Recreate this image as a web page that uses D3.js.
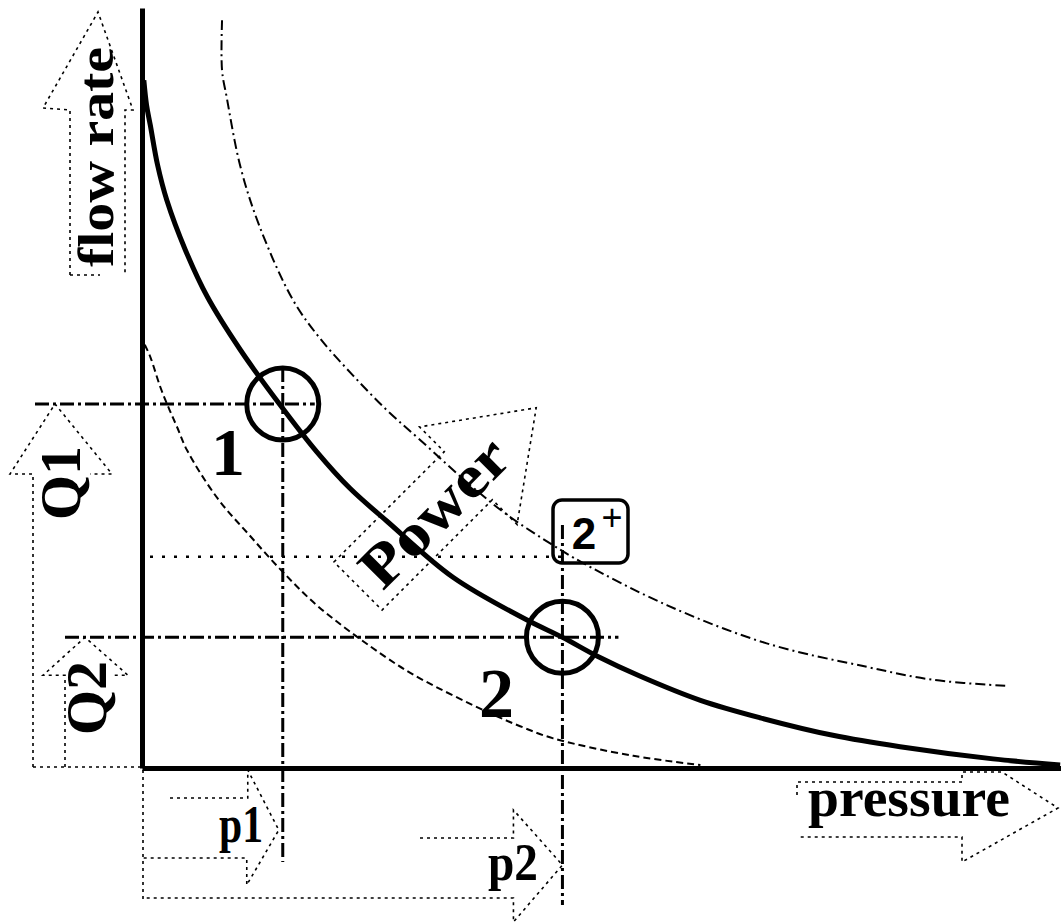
<!DOCTYPE html>
<html>
<head>
<meta charset="utf-8">
<script src="https://cdn.jsdelivr.net/npm/d3@7"></script>
<style>
  body { margin: 0; background: #fff; }
  svg text { font-family: "Liberation Serif", "DejaVu Serif", serif; font-weight: bold; fill: #000; }
</style>
</head>
<body>
<svg id="chart" width="1061" height="924"></svg>
<script>
// ---- data (pressure, flow rate), arbitrary units 0..100 ----
const mainCurve = [
  [0.2, 90.5], [0.5, 87.2], [0.9, 84.6], [1.7, 79.3], [2.7, 74.7], [4.7, 68.2],
  [7.1, 62.0], [10.7, 55.0], [15.0, 47.8], [19.0, 41.6], [22.6, 36.8], [26.6, 32.5],
  [33.8, 25.1], [41.8, 19.5], [45.7, 17.2], [49.5, 14.7], [54.1, 12.1], [60.7, 8.9],
  [67.2, 6.6], [75.1, 4.3], [82.4, 2.8], [92.5, 1.2], [99.8, 0.4]
];
const upperCurve = [
  [8.7, 98.4], [8.7, 91.8], [9.2, 88.3], [10.7, 79.1], [12.8, 71.2], [16.4, 61.6],
  [19.3, 56.6], [22.9, 51.7], [26.6, 47.1], [30.2, 43.2], [35.7, 37.2], [39.7, 33.3],
  [44.7, 29.3], [47.9, 27.0], [57.1, 21.4], [67.9, 16.4], [78.8, 13.3], [86.0, 11.6],
  [94.0, 10.8]
];
const lowerCurve = [
  [0.3, 55.7], [0.9, 54.1], [2.0, 50.1], [3.0, 47.1], [3.8, 44.9], [4.9, 41.8],
  [8.2, 35.5], [11.7, 30.6], [15.3, 25.8], [19.3, 21.1], [26.6, 14.5], [30.2, 11.8],
  [37.5, 7.4], [41.1, 5.5], [44.7, 3.9], [53.4, 1.6], [60.7, 0.4]
];
const opPressure = [15.3, 45.7];     // p1, p2
const opFlow = [47.9, 17.2];         // Q1, Q2
const pointLabels = ["1", "2"];
const pressureLabels = ["p1", "p2"];
const flowLabels = ["Q1", "Q2"];
const midFlowLevel = 27.8;           // dotted level

const svg = d3.select("#chart");

let x = d3.scaleLinear().domain([0, 100]).range([142, 1062]);
let y = d3.scaleLinear().domain([0, 100]).range([768, 8]);

// axes: plain thick lines, no ticks
let xAxis = d3.axisBottom(x).ticks(0).tickSizeOuter(0);
let yAxis = d3.axisLeft(y).ticks(0).tickSizeOuter(0);
svg.append("g").attr("transform", "translate(0,768)").call(xAxis)
  .select(".domain").attr("stroke", "#000").attr("stroke-width", 5);
svg.append("g").attr("transform", "translate(142,0)").call(yAxis)
  .select(".domain").attr("stroke", "#000").attr("stroke-width", 5);

let lineGen = d3.line()
  .x(d => x(d[0]))
  .y(d => y(d[1]))
  .curve(d3.curveCatmullRom.alpha(0.5));

// curves
svg.append("path").attr("d", lineGen(upperCurve))
  .attr("fill", "none").attr("stroke", "#000").attr("stroke-width", 2)
  .attr("stroke-dasharray", "10,4,2,4");
svg.append("path").attr("d", lineGen(lowerCurve))
  .attr("fill", "none").attr("stroke", "#000").attr("stroke-width", 2)
  .attr("stroke-dasharray", "7,4");
svg.append("path").attr("d", lineGen(mainCurve))
  .attr("fill", "none").attr("stroke", "#000").attr("stroke-width", 5);

// reference lines for the operating points
const refDash = "14,4,3,4";
function refLine(x1, y1, x2, y2, dash, w) {
  svg.append("line")
    .attr("x1", x1).attr("y1", y1).attr("x2", x2).attr("y2", y2)
    .attr("stroke", "#000").attr("stroke-width", w || 3)
    .attr("stroke-dasharray", dash);
}
refLine(35, y(opFlow[0]), x(opPressure[0]) + 32, y(opFlow[0]), refDash);
refLine(x(opPressure[0]), y(opFlow[0]) - 36, x(opPressure[0]), 862, refDash);
refLine(65, y(opFlow[1]), x(opPressure[1]) + 56, y(opFlow[1]), refDash);
refLine(x(opPressure[1]), 525, x(opPressure[1]), 905, refDash);
refLine(150, y(midFlowLevel), x(opPressure[1]), y(midFlowLevel), "3,9", 2.5);

// circles around the operating points
svg.selectAll("circle.op").data(opPressure).join("circle")
  .attr("class", "op")
  .attr("cx", d => x(d))
  .attr("cy", (d, i) => y(opFlow[i]))
  .attr("r", 36)
  .attr("fill", "none").attr("stroke", "#000").attr("stroke-width", 5);

// dotted arrow outlines
function outline(pts, closed) {
  svg.append("path")
    .attr("d", d3.line()(pts) + (closed ? "Z" : ""))
    .attr("fill", "none").attr("stroke", "#000").attr("stroke-width", 1.6)
    .attr("stroke-dasharray", "3,4");
}
// flow rate arrow
outline([[70, 275], [70, 110], [43, 108], [98, 12], [133, 110], [125, 110], [125, 275]], false);
outline([[70, 275], [100, 275]], false);
// Q1 arrow
let yq1 = y(opFlow[0]), yq2 = y(opFlow[1]);
outline([[33, 767], [33, yq1 + 70], [10, yq1 + 70], [55, yq1], [112, yq1 + 70], [90, yq1 + 70]], false);
// Q2 arrow
outline([[65, 767], [65, yq2 + 38], [43, yq2 + 38], [85, yq2], [128, yq2 + 38], [114, yq2 + 38]], false);
outline([[33, 767], [142, 767]], false);
// p1 / p2 arrows
let xp1 = x(opPressure[0]), xp2 = x(opPressure[1]);
outline([[170, 798], [xp1 - 35, 798], [xp1 - 35, 770], [xp1 - 4, 830], [xp1 - 36, 885], [xp1 - 36, 858], [143, 858]], false);
outline([[420, 838], [xp2 - 49, 838], [xp2 - 49, 810], [xp2, 865], [xp2 - 49, 922], [xp2 - 49, 898], [145, 898]], false);
outline([[143, 770], [143, 902]], false);
// pressure arrow
outline([[797, 795], [797, 782], [962, 782], [962, 772], [1002, 772], [1058, 808], [962, 862], [962, 837], [797, 837]], false);

// Power arrow with text
let pw = svg.append("g").attr("transform", "translate(358,586) rotate(-45)");
pw.append("path")
  .attr("d", d3.line()([[0, -34], [156, -34], [156, -69], [252, 0], [156, 69], [156, 34], [0, 34]]) + "Z")
  .attr("fill", "none").attr("stroke", "#000").attr("stroke-width", 1.6)
  .attr("stroke-dasharray", "3,4");
pw.append("text").text("Power")
  .attr("x", 106).attr("y", 0).attr("dy", "0.36em")
  .attr("text-anchor", "middle").attr("font-size", 60)
  .attr("textLength", 185).attr("lengthAdjust", "spacingAndGlyphs");

// "2+" box
svg.append("rect").attr("x", 553).attr("y", 500).attr("width", 75).attr("height", 63)
  .attr("rx", 9).attr("fill", "none").attr("stroke", "#000").attr("stroke-width", 3.5);
svg.append("text").text("2").attr("x", 584).attr("y", 549)
  .attr("text-anchor", "middle").attr("font-size", 44)
  .style("font-family", "'Liberation Sans', Arial, sans-serif");
svg.append("text").text("+").attr("x", 612).attr("y", 530)
  .attr("text-anchor", "middle").attr("font-size", 36)
  .style("font-family", "'Liberation Sans', Arial, sans-serif").style("font-weight", "normal");

// labels
svg.append("text").text("flow rate")
  .attr("transform", "translate(113,157) rotate(-90)")
  .attr("text-anchor", "middle").attr("font-size", 50)
  .attr("textLength", 220).attr("lengthAdjust", "spacingAndGlyphs");

svg.selectAll("text.flow").data(flowLabels).join("text")
  .attr("class", "flow")
  .attr("transform", (d, i) => "translate(" + (i === 0 ? 80 : 106) + "," + (i === 0 ? 483 : 698) + ") rotate(-90)")
  .attr("text-anchor", "middle").attr("font-size", 58)
  .text(d => d);

svg.selectAll("text.pres").data(pressureLabels).join("text")
  .attr("class", "pres")
  .attr("x", (d, i) => i === 0 ? 219 : 488)
  .attr("y", (d, i) => i === 0 ? 842 : 880)
  .attr("font-size", 52)
  .attr("textLength", (d, i) => i === 0 ? 44 : 50).attr("lengthAdjust", "spacingAndGlyphs")
  .text(d => d);

svg.append("text").text("pressure")
  .attr("x", 808).attr("y", 816).attr("font-size", 54)
  .attr("textLength", 202).attr("lengthAdjust", "spacingAndGlyphs");

svg.selectAll("text.pt").data(pointLabels).join("text")
  .attr("class", "pt")
  .attr("x", (d, i) => i === 0 ? 211 : 479)
  .attr("y", (d, i) => i === 0 ? 475 : 717)
  .attr("font-size", (d, i) => i === 0 ? 68 : 70)
  .text(d => d);
</script>
</body>
</html>
